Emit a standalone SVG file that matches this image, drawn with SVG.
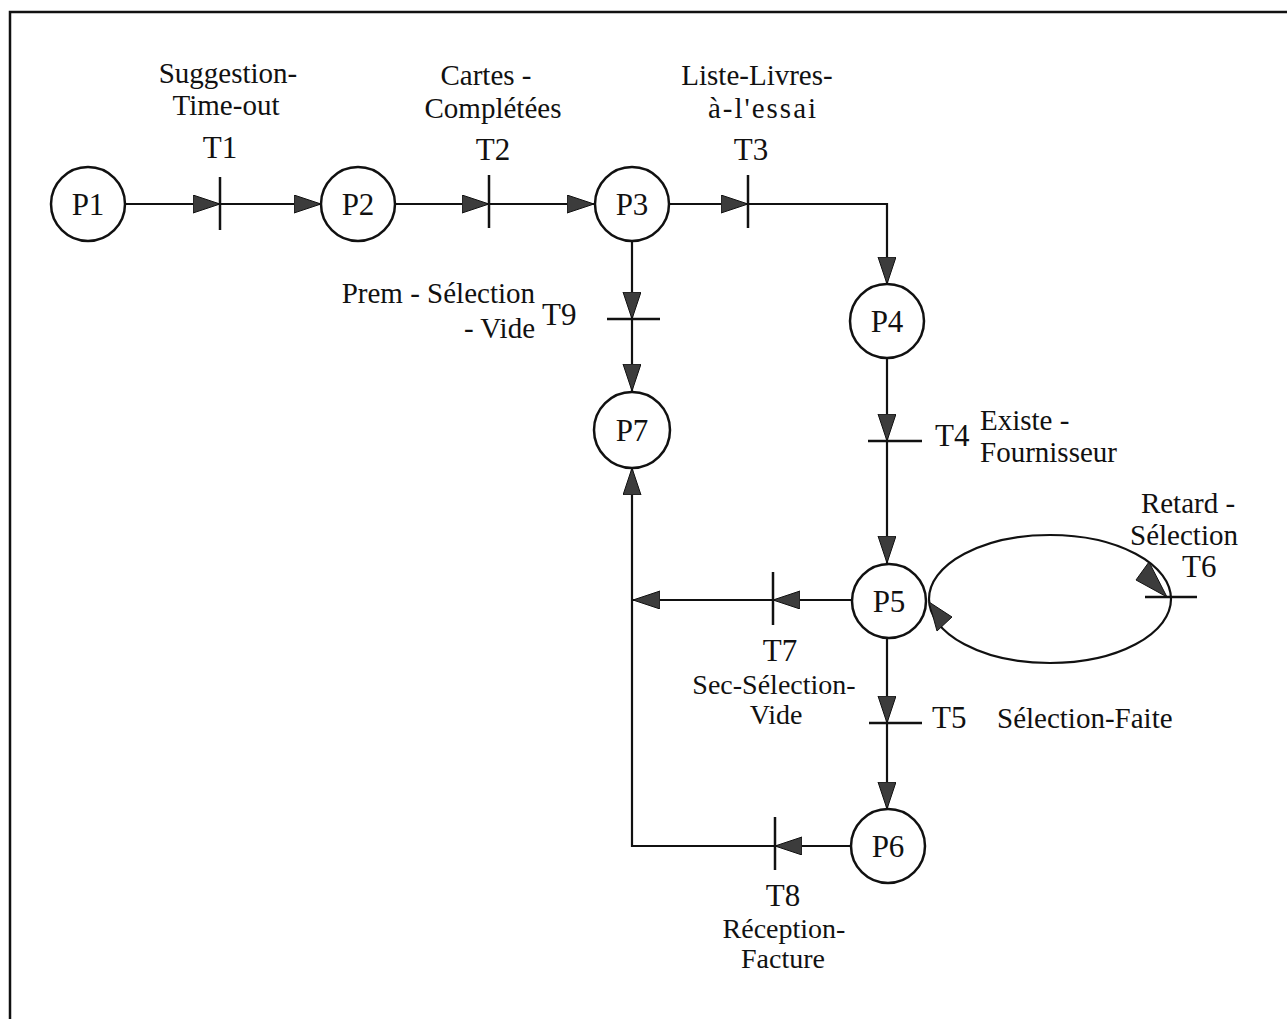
<svg xmlns="http://www.w3.org/2000/svg" width="1287" height="1019" viewBox="0 0 1287 1019">
<style>
.frame{stroke:#111;stroke-width:2.5;fill:none}
.place{fill:#fff;stroke:#111;stroke-width:2.5}
.bar{stroke:#111;stroke-width:2.5}
.edge{fill:none;stroke:#111;stroke-width:2.2}
.head{fill:#3c3c3c;stroke:#111;stroke-width:1}
text{font-family:"Liberation Serif","Times New Roman",serif;fill:#111}
.lab{font-size:29px}
.sm{font-size:28px}
.tl{font-size:31px}
.pl{font-size:31px;text-anchor:middle}
.c{text-anchor:middle}
.e{text-anchor:end}
</style>
<defs>
<marker id="ah" markerUnits="userSpaceOnUse" markerWidth="30" markerHeight="20" refX="27" refY="9" orient="auto" viewBox="0 0 30 20">
<path d="M0,0 L27,9 L0,18 z" class="head"/>
</marker>
</defs>
<rect width="1287" height="1019" fill="#fff"/>
<path class="frame" d="M10,1019 V12 H1287"/>

<g id="connectors">
<path class="edge" d="M125,204 H220" marker-end="url(#ah)"/>
<path class="edge" d="M220,204 H321" marker-end="url(#ah)"/>
<path class="edge" d="M395,204 H489" marker-end="url(#ah)"/>
<path class="edge" d="M489,204 H594" marker-end="url(#ah)"/>
<path class="edge" d="M669,204 H748" marker-end="url(#ah)"/>
<path class="edge" d="M748,204 H887 V284" marker-end="url(#ah)"/>
<path class="edge" d="M887,358 V441" marker-end="url(#ah)"/>
<path class="edge" d="M887,441 V563" marker-end="url(#ah)"/>
<path class="edge" d="M851,600 H773" marker-end="url(#ah)"/>
<path class="edge" d="M773,600 H633" marker-end="url(#ah)"/>
<path class="edge" d="M887,638 V723" marker-end="url(#ah)"/>
<path class="edge" d="M887,723 V809" marker-end="url(#ah)"/>
<path class="edge" d="M850,846 H775" marker-end="url(#ah)"/>
<path class="edge" d="M775,846 H632 V468" marker-end="url(#ah)"/>
<path class="edge" d="M632,242 V319" marker-end="url(#ah)"/>
<path class="edge" d="M632,319 V391" marker-end="url(#ah)"/>
<ellipse class="edge" cx="1050" cy="599" rx="121" ry="64"/>
<polygon class="head" points="1167,597 1136,580 1149,562"/>
<polygon class="head" points="929,602 952,617 937,631"/>
</g>

<g id="P1"><circle class="place" cx="88" cy="204" r="37"/><text class="pl" x="88" y="215">P1</text></g>
<g id="P2"><circle class="place" cx="358" cy="204" r="37"/><text class="pl" x="358" y="215">P2</text></g>
<g id="P3"><circle class="place" cx="632" cy="204" r="37"/><text class="pl" x="632" y="215">P3</text></g>
<g id="P4"><circle class="place" cx="887" cy="321" r="37"/><text class="pl" x="887" y="332">P4</text></g>
<g id="P5"><circle class="place" cx="889" cy="601" r="37"/><text class="pl" x="889" y="612">P5</text></g>
<g id="P6"><circle class="place" cx="888" cy="846" r="37"/><text class="pl" x="888" y="857">P6</text></g>
<g id="P7"><circle class="place" cx="632" cy="430" r="38"/><text class="pl" x="632" y="441">P7</text></g>

<g id="T1"><line class="bar" x1="220" y1="177" x2="220" y2="230"/>
<text class="tl c" x="220" y="158">T1</text>
<text class="lab c" x="228" y="83">Suggestion-</text>
<text class="lab c" x="226" y="115">Time-out</text></g>

<g id="T2"><line class="bar" x1="489" y1="175" x2="489" y2="228"/>
<text class="tl c" x="493" y="160">T2</text>
<text class="lab c" x="486" y="85">Cartes -</text>
<text class="lab c" x="493" y="118">Complétées</text></g>

<g id="T3"><line class="bar" x1="748" y1="175" x2="748" y2="228"/>
<text class="tl c" x="751" y="160">T3</text>
<text class="lab c" x="757" y="85">Liste-Livres-</text>
<text class="lab c" x="763" y="118" letter-spacing="2">à-l'essai</text></g>

<g id="T9"><line class="bar" x1="607" y1="319" x2="660" y2="319"/>
<text class="tl" x="542" y="325">T9</text>
<text class="lab e" x="535" y="303">Prem - Sélection</text>
<text class="lab e" x="535" y="338">- Vide</text></g>

<g id="T4"><line class="bar" x1="868" y1="441" x2="922" y2="441"/>
<text class="tl" x="935" y="446">T4</text>
<text class="lab" x="980" y="430">Existe -</text>
<text class="lab" x="980" y="462">Fournisseur</text></g>

<g id="T6"><line class="bar" x1="1145" y1="597" x2="1197" y2="597"/>
<text class="tl" x="1182" y="577">T6</text>
<text class="lab c" x="1188" y="513">Retard -</text>
<text class="lab c" x="1184" y="545">Sélection</text></g>

<g id="T7"><line class="bar" x1="773" y1="572" x2="773" y2="625"/>
<text class="tl c" x="780" y="661">T7</text>
<text class="sm c" x="774" y="694">Sec-Sélection-</text>
<text class="sm c" x="776" y="724">Vide</text></g>

<g id="T5"><line class="bar" x1="869" y1="723" x2="922" y2="723"/>
<text class="tl" x="932" y="728">T5</text>
<text class="lab" x="997" y="728">Sélection-Faite</text></g>

<g id="T8"><line class="bar" x1="775" y1="817" x2="775" y2="870"/>
<text class="tl c" x="783" y="906">T8</text>
<text class="sm c" x="784" y="938">Réception-</text>
<text class="sm c" x="783" y="968">Facture</text></g>
</svg>
